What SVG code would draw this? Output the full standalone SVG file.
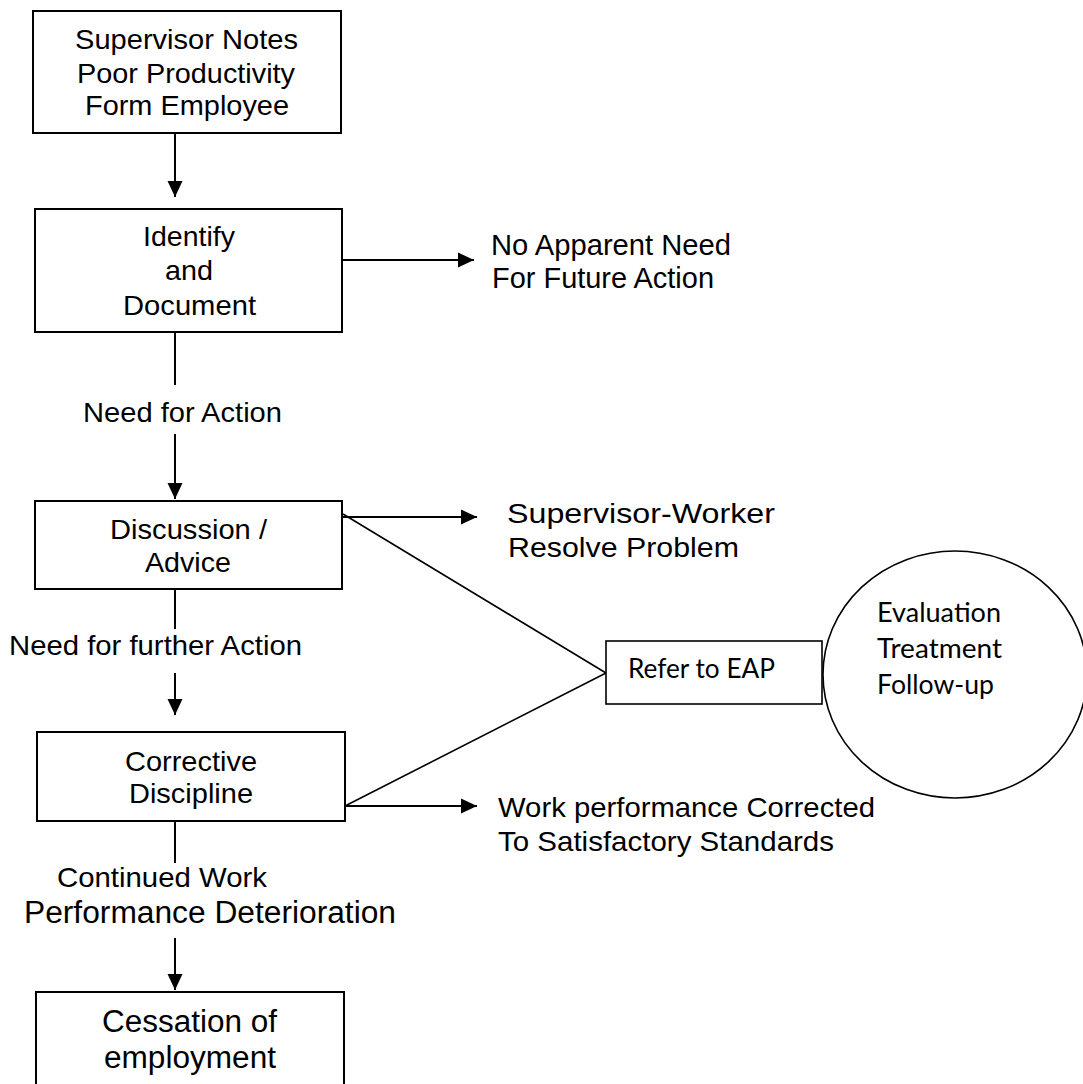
<svg xmlns="http://www.w3.org/2000/svg" width="1083" height="1084" viewBox="0 0 1083 1084">
<style>
.box{fill:#fff;stroke:#000;stroke-width:2}
.thin{fill:#fff;stroke:#000;stroke-width:1.6}
.ln{stroke:#000;stroke-width:2;fill:none}
.dg{stroke:#000;stroke-width:1.6;fill:none}
.t{font-family:"Liberation Sans",Arial,sans-serif;font-size:28px;fill:#000}
.c{font-family:Lato,"Open Sans",sans-serif;font-size:27px;fill:#000}
</style>
<defs>
<marker id="ah" markerUnits="userSpaceOnUse" markerWidth="16" markerHeight="16" viewBox="0 0 16 16" refX="16" refY="8" orient="auto">
<path d="M0,0.5 L16,8 L0,15.5 z" fill="#000"/>
</marker>
</defs>
<rect width="1083" height="1084" fill="#fff"/>
<g id="connectors">
<line class="ln" x1="175" y1="133" x2="175" y2="197" marker-end="url(#ah)"/>
<line class="ln" x1="340" y1="260" x2="474" y2="260" marker-end="url(#ah)"/>
<line class="ln" x1="175" y1="332" x2="175" y2="385"/>
<line class="ln" x1="175" y1="434" x2="175" y2="499" marker-end="url(#ah)"/>
<line class="ln" x1="342" y1="517" x2="477" y2="517" marker-end="url(#ah)"/>
<line class="dg" x1="343" y1="514" x2="606" y2="673"/>
<line class="ln" x1="175" y1="589" x2="175" y2="629"/>
<line class="ln" x1="175" y1="673" x2="175" y2="715" marker-end="url(#ah)"/>
<line class="ln" x1="345" y1="806" x2="477" y2="806" marker-end="url(#ah)"/>
<line class="dg" x1="345" y1="806" x2="606" y2="673"/>
<line class="ln" x1="175" y1="821" x2="175" y2="863"/>
<line class="ln" x1="175" y1="938" x2="175" y2="990" marker-end="url(#ah)"/>
<text class="t" x="83" y="422" textLength="199" lengthAdjust="spacingAndGlyphs">Need for Action</text>
<text class="t" x="9" y="655" textLength="293" lengthAdjust="spacingAndGlyphs">Need for further Action</text>
<text class="t" x="57" y="887" textLength="210" lengthAdjust="spacingAndGlyphs">Continued Work</text>
<text class="t" x="24" y="923" style="font-size:31px" textLength="372" lengthAdjust="spacingAndGlyphs">Performance Deterioration</text>
</g>
<g id="n1">
<rect class="box" x="33" y="11" width="308" height="122"/>
<text class="t" x="75" y="49" textLength="223" lengthAdjust="spacingAndGlyphs">Supervisor Notes</text>
<text class="t" x="77" y="83" textLength="218" lengthAdjust="spacingAndGlyphs">Poor Productivity</text>
<text class="t" x="85" y="115" textLength="204" lengthAdjust="spacingAndGlyphs">Form Employee</text>
</g>
<g id="n2">
<rect class="box" x="35" y="209" width="307" height="123"/>
<text class="t" x="143" y="246" textLength="92" lengthAdjust="spacingAndGlyphs">Identify</text>
<text class="t" x="165" y="280" textLength="48" lengthAdjust="spacingAndGlyphs">and</text>
<text class="t" x="123" y="315" textLength="133" lengthAdjust="spacingAndGlyphs">Document</text>
</g>
<g id="n2-out">
<text class="t" x="491" y="255" style="font-size:29px" textLength="240" lengthAdjust="spacingAndGlyphs">No Apparent Need</text>
<text class="t" x="492" y="288" style="font-size:29px" textLength="222" lengthAdjust="spacingAndGlyphs">For Future Action</text>
</g>
<g id="n3">
<rect class="box" x="35" y="501" width="307" height="88"/>
<text class="t" x="110" y="539" textLength="157" lengthAdjust="spacingAndGlyphs">Discussion /</text>
<text class="t" x="145" y="572" textLength="86" lengthAdjust="spacingAndGlyphs">Advice</text>
</g>
<g id="n3-out">
<text class="t" x="507" y="523" textLength="268" lengthAdjust="spacingAndGlyphs">Supervisor-Worker</text>
<text class="t" x="508" y="557" textLength="231" lengthAdjust="spacingAndGlyphs">Resolve Problem</text>
</g>
<g id="n-eap">
<rect class="thin" x="606" y="641" width="216" height="63"/>
<text class="c" x="628" y="678" textLength="147" lengthAdjust="spacingAndGlyphs">Refer to EAP</text>
</g>
<g id="n-eval">
<ellipse class="thin" cx="955" cy="674.5" rx="132" ry="123.5"/>
<text class="c" x="877" y="622" textLength="124" lengthAdjust="spacingAndGlyphs">Evaluation</text>
<text class="c" x="877" y="658" textLength="125" lengthAdjust="spacingAndGlyphs">Treatment</text>
<text class="c" x="877" y="694" textLength="117" lengthAdjust="spacingAndGlyphs">Follow-up</text>
</g>
<g id="n4">
<rect class="box" x="37" y="732" width="308" height="89"/>
<text class="t" x="125" y="771" textLength="132" lengthAdjust="spacingAndGlyphs">Corrective</text>
<text class="t" x="129" y="803" textLength="124" lengthAdjust="spacingAndGlyphs">Discipline</text>
</g>
<g id="n4-out">
<text class="t" x="498" y="817" textLength="377" lengthAdjust="spacingAndGlyphs">Work performance Corrected</text>
<text class="t" x="498" y="851" textLength="336" lengthAdjust="spacingAndGlyphs">To Satisfactory Standards</text>
</g>
<g id="n5">
<rect class="box" x="36" y="992" width="308" height="110"/>
<text class="t" x="102" y="1032" style="font-size:31px" textLength="175" lengthAdjust="spacingAndGlyphs">Cessation of</text>
<text class="t" x="104" y="1068" style="font-size:31px" textLength="172" lengthAdjust="spacingAndGlyphs">employment</text>
</g>
</svg>
